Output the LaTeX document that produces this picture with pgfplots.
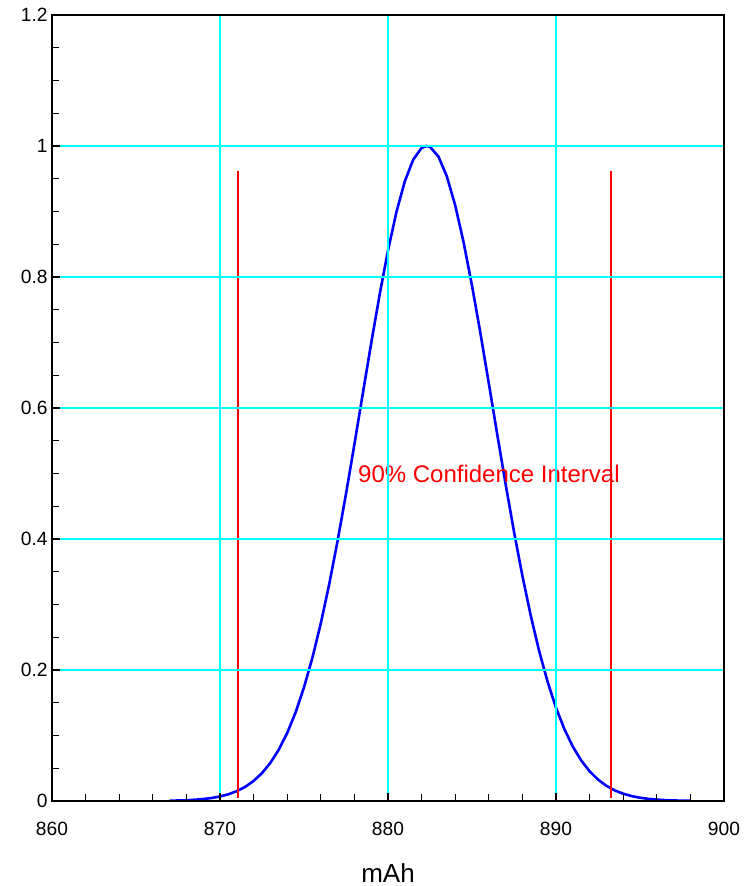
\documentclass[border=0pt]{standalone}
\usepackage{fontspec}
\setmainfont{Liberation Sans}
\usepackage{pgfplots}
\pgfplotsset{compat=1.18}
\definecolor{gridcyan}{RGB}{0,255,255}
\definecolor{curveblue}{RGB}{0,0,255}
\definecolor{cired}{RGB}{255,0,0}

\begin{document}
\begin{tikzpicture}
\begin{axis}[
    name=ax,
    scale only axis,
    width=336pt, height=393pt,
    xmin=860, xmax=900, ymin=0, ymax=1.2,
    xtick={860,870,880,890,900},
    ytick={0,0.2,0.4,0.6,0.8,1,1.2},
    minor x tick num=4,
    minor y tick num=3,
    tick align=inside,
    xtick pos=bottom, ytick pos=left,
    major tick length=4pt, minor tick length=3.5pt,
    every tick/.style={black, line width=0.6pt},
    grid=major,
    major grid style={gridcyan, line width=0.9pt},
    axis on top,
    axis line style={line width=1.2pt},
    /pgf/number format/assume math mode=true,
    tick label style={font=\fontsize{9.6}{11}\selectfont},
    xticklabel style={yshift=-7pt},
    yticklabel style={xshift=1.3pt},
    xlabel={mAh},
    xlabel style={at={(axis description cs:0.5,0)}, anchor=north, inner sep=0pt,
        yshift=-31pt, font=\fontsize{13}{15}\selectfont},
]
% fitted curve (peak normalised to 1)
\addplot[curveblue, line width=1.3pt] coordinates {
(867,0.000455)(867.5,0.000745)(868,0.001203)(868.5,0.00191)(869,0.002983)
(869.5,0.00458)(870,0.00692)(870.5,0.01028)(871,0.01503)(871.5,0.02162)
(872,0.03058)(872.5,0.04256)(873,0.05827)(873.5,0.07842)(874,0.1038)
(874.5,0.1353)(875,0.1735)(875.5,0.2187)(876,0.2712)(876.5,0.3309)
(877,0.3972)(877.5,0.4689)(878,0.5445)(878.5,0.6221)(879,0.699)
(879.5,0.7728)(880,0.8404)(880.5,0.899)(881,0.946)(881.5,0.9792)
(882,0.997)(882.3,1)(882.5,0.9987)(883,0.984)(883.5,0.9538)
(884,0.9094)(884.5,0.8529)(885,0.7869)(885.5,0.7142)(886,0.6376)
(886.5,0.56)(887,0.4837)(887.5,0.4111)(888,0.3437)(888.5,0.2826)
(889,0.2286)(889.5,0.1819)(890,0.1424)(890.5,0.1097)(891,0.0831)
(891.5,0.0619)(892,0.04537)(892.5,0.03272)(893,0.0232)(893.5,0.01619)
(894,0.01111)(894.5,0.0075)(895,0.00498)(895.5,0.00325)(896,0.00209)
(896.5,0.00132)(897,0.00082)(897.5,0.0005)(898,0.0003)
};
% confidence interval limits
\addplot[cired, line width=0.8pt] coordinates {(871.07,0.005)(871.07,0.962)};
\addplot[cired, line width=0.8pt] coordinates {(893.27,0.005)(893.27,0.962)};
\node[anchor=base west, inner sep=0pt, text=cired, font=\fontsize{12}{14}\selectfont]
    at (axis cs:878.2,0.486) {90\% Confidence Interval};
\end{axis}
\path ([xshift=-26pt,yshift=-42.5pt]ax.south west) rectangle ([xshift=14.5pt,yshift=7.5pt]ax.north east);
\end{tikzpicture}
\end{document}
